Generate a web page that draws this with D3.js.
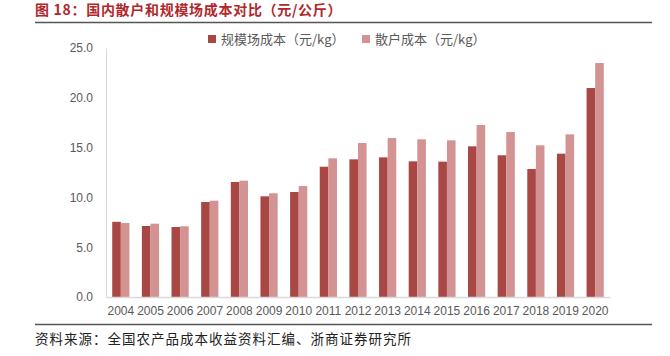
<!DOCTYPE html>
<html><head><meta charset="utf-8">
<script src="https://cdn.jsdelivr.net/npm/d3@7/dist/d3.min.js"></script>
<style>
html,body{margin:0;padding:0;background:#fff;}
svg{display:block;}
</style></head>
<body>
<svg id="c" width="670" height="356"></svg>
<script>
const years = ["2004","2005","2006","2007","2008","2009","2010","2011","2012","2013","2014","2015","2016","2017","2018","2019","2020"];
const seriesNames = ["规模场成本（元/kg）","散户成本（元/kg）"];
const largeScale = [7.55,7.13,7.03,9.54,11.55,10.11,10.54,13.08,13.82,14.02,13.62,13.59,15.13,14.23,12.85,14.39,20.98];
const backyard = [7.43,7.36,7.10,9.67,11.68,10.41,11.14,13.92,15.46,15.96,15.83,15.73,17.27,16.57,15.23,16.33,23.49];
const yTicks = [0,5,10,15,20,25];
const colors = ["#a94744","#d39392"];
const titleText = "图 18：国内散户和规模场成本对比（元/公斤）";
const sourceText = "资料来源：全国农产品成本收益资料汇编、浙商证券研究所";

(function(){
const svg = d3.select("#c");
const pL = 106, pR = 610, pT = 48, pB = 297;
const cjk = "'Noto Sans CJK SC', sans-serif";
const num = "'Liberation Sans', Arial, sans-serif";

// title
svg.append("text").attr("x",35).attr("y",15).attr("fill","#b0282c")
  .attr("font-family",cjk).attr("font-weight","bold").attr("font-size",14)
  .attr("letter-spacing",0.7).text(titleText);
svg.append("line").attr("x1",35).attr("x2",652).attr("y1",22.5).attr("y2",22.5)
  .attr("stroke","#555").attr("stroke-width",1.5);

const x0 = d3.scaleBand().domain(years).range([pL,pR]).paddingInner(0.42).paddingOuter(0.21);
const x1 = d3.scaleBand().domain([0,1]).range([0,x0.bandwidth()]);
const y = d3.scaleLinear().domain([0,25]).range([pB,pT]);

// y axis
const ya = svg.append("g").attr("transform",`translate(${pL},0)`)
  .call(d3.axisLeft(y).tickValues(yTicks).tickFormat(d3.format(".1f")).tickSize(0).tickPadding(13));
ya.select(".domain").attr("stroke","#d9d9d9");
ya.selectAll("text").attr("font-family",num).attr("font-size",12).attr("fill","#595959");

// bars
const data = [largeScale, backyard];
data.forEach((vals,si)=>{
  svg.append("g").selectAll("rect").data(vals).join("rect")
    .attr("x",(d,i)=>x0(years[i])+x1(si))
    .attr("width",x1.bandwidth())
    .attr("y",d=>y(d))
    .attr("height",d=>pB-y(d))
    .attr("fill",colors[si]);
});

// x axis
const xa = svg.append("g").attr("transform",`translate(0,${pB})`)
  .call(d3.axisBottom(x0).tickSize(0).tickPadding(9));
xa.select(".domain").attr("stroke","#d9d9d9").attr("stroke-width",1.5);
xa.selectAll("text").attr("font-family",num).attr("font-size",12).attr("fill","#595959");

// legend
const legX = [212,366];
seriesNames.forEach((n,i)=>{
  svg.append("rect").attr("x",legX[i]-4).attr("y",35).attr("width",8).attr("height",8).attr("fill",colors[i]);
  svg.append("text").attr("x",legX[i]+9).attr("y",43.5).attr("font-family",cjk)
    .attr("font-size",13).attr("fill","#595959").text(n);
});

// bottom line and source
svg.append("line").attr("x1",35).attr("x2",652).attr("y1",324.5).attr("y2",324.5)
  .attr("stroke","#555").attr("stroke-width",1.5);
svg.append("text").attr("x",35).attr("y",344).attr("font-family",cjk).attr("font-size",13.5)
  .attr("letter-spacing",1).attr("fill","#222").text(sourceText);
})();
</script>
</body></html>
